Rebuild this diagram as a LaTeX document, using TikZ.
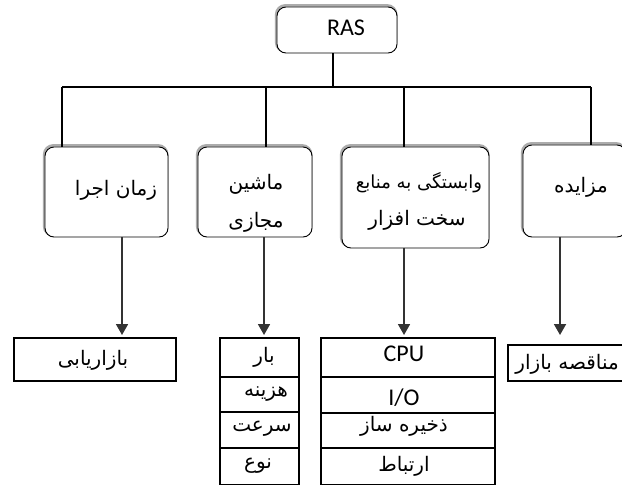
\documentclass[tikz,border=0pt]{standalone}
\usepackage{fontspec}
\setmainfont{Carlito}
\newfontfamily\fa[Script=Arabic]{DejaVu Sans}
\TeXXeTstate=1
\usetikzlibrary{arrows.meta}
\begin{document}
\begin{tikzpicture}[x=1pt,y=-1pt,
  rbox/.style={draw=black, line width=0.9pt, rounded corners=9pt, fill=white, inner sep=0pt,
    preaction={draw=gray!65, line width=2.6pt, rounded corners=9pt, transform canvas={xshift=-0.8pt,yshift=1.6pt}}},
  cell/.style={draw=black, line width=1.3pt, inner sep=0pt},
  tree/.style={draw=black, line width=1.2pt},
  arr/.style={draw=black!80, line width=1.8pt, -{Triangle[width=12pt,length=11pt]}},
  lat/.style={font=\fontsize{24}{26}\selectfont, inner sep=0pt},
  per/.style={font=\fontsize{20}{22}\selectfont\fa, inner sep=0pt}]
\useasboundingbox (0,0) rectangle (622,485);
\fill[white] (0,0) rectangle (622,485);

% top-level boxes
\node[rbox, minimum width=120pt, minimum height=46pt] (ras) at (337,30) {};
\node[rbox, minimum width=123pt, minimum height=90pt] (b1) at (106.5,192) {};
\node[rbox, minimum width=114pt, minimum height=90pt] (b2) at (255,192) {};
\node[rbox, minimum width=147pt, minimum height=101pt] (b3) at (415.5,197.5) {};
\node[rbox, minimum width=103pt, minimum height=92pt] (b4) at (574.5,191) {};

% bottom boxes
\node[cell, minimum width=162pt, minimum height=43pt] (m1) at (95,359.5) {};
\node[cell, minimum width=79pt, minimum height=39pt] (s21) at (259.5,357.5) {};
\node[cell, minimum width=79pt, minimum height=35pt] (s22) at (259.5,394.5) {};
\node[cell, minimum width=79pt, minimum height=36pt] (s23) at (259.5,430) {};
\node[cell, minimum width=79pt, minimum height=37pt] (s24) at (259.5,466.5) {};
\node[cell, minimum width=174pt, minimum height=39pt] (s31) at (408,357.5) {};
\node[cell, minimum width=174pt, minimum height=36pt] (s32) at (408,395) {};
\node[cell, minimum width=174pt, minimum height=35pt] (s33) at (408,430.5) {};
\node[cell, minimum width=174pt, minimum height=37pt] (s34) at (408,466.5) {};
\node[cell, minimum width=132pt, minimum height=36pt] (m4) at (574,363) {};

% texts
\node[lat] (tras) at (346,28) {RAS};
\node[per] (t1) at (116,190) {\beginR زمان اجرا\endR};
\node[per] (t2a) at (256,184) {\beginR ماشین\endR};
\node[per] (t2b) at (256,222) {\beginR مجازی\endR};
\node[per, font=\fontsize{18}{20}\selectfont\fa] (t3a) at (419,183) {\beginR وابستگی به منابع\endR};
\node[per] (t3b) at (417,220) {\beginR سخت افزار\endR};
\node[per] (t4) at (581,187) {\beginR مزایده\endR};
\node[per] (tm1) at (93,360) {\beginR بازاریابی\endR};
\node[per, anchor=east] (tm4) at (619,364) {\beginR مناقصه بازار\endR};
\node[per] (u1) at (264,357) {\beginR بار\endR};
\node[per] (u2) at (266,394) {\beginR هزینه\endR};
\node[per] (u3) at (262,429) {\beginR سرعت\endR};
\node[per] (u4) at (258,466) {\beginR نوع\endR};
\node[lat] (v1) at (404,354) {CPU};
\node[lat] (v2) at (404,398) {I/O};
\node[per] (v3) at (404,426) {\beginR ذخیره ساز\endR};
\node[per] (v4) at (404,466) {\beginR ارتباط\endR};

% tree connectors
\coordinate (bar) at (333,87);
\coordinate (j1) at (62,87);
\coordinate (j2) at (266,87);
\coordinate (j3) at (404,87);
\coordinate (j4) at (591,87);
\draw[tree] (ras.south -| bar) -- (bar);
\draw[tree] (j1) -- (j4);
\draw[tree] (j1) -- (j1 |- b1.north);
\draw[tree] (j2) -- (j2 |- b2.north);
\draw[tree] (j3) -- (j3 |- b3.north);
\draw[tree] (j4) -- (j4 |- b4.north);

% arrows
\coordinate (a1) at (122,335);
\coordinate (a2) at (264,335);
\coordinate (a3) at (404,335);
\coordinate (a4) at (560,335);
\draw[arr] (a1 |- b1.south) -- (a1);
\draw[arr] (a2 |- b2.south) -- (a2);
\draw[arr] (a3 |- b3.south) -- (a3);
\draw[arr] (a4 |- b4.south) -- (a4);
\end{tikzpicture}
\end{document}
